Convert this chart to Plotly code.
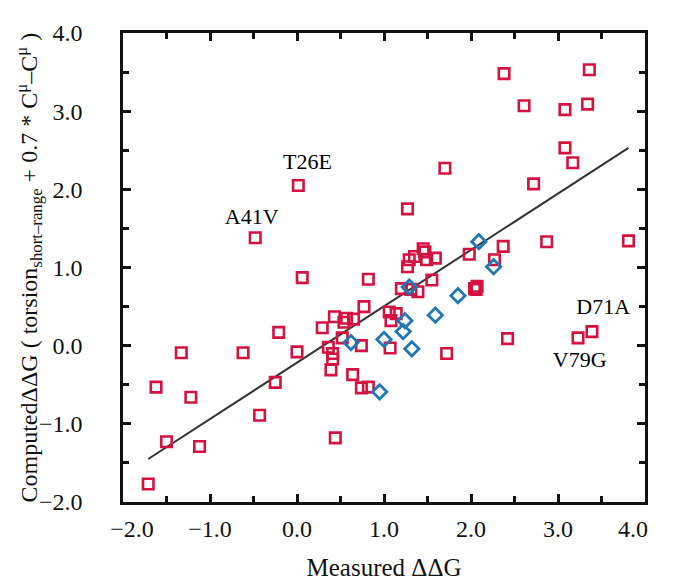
import plotly.graph_objects as go

# Red open squares (measured, computed)
red_x = [-1.71, -1.62, -1.50, -1.33, -1.22, -1.12, -0.62, -0.48, -0.43, -0.25,
         -0.21, 0.00, 0.015, 0.06, 0.29, 0.36, 0.39, 0.41, 0.41, 0.43,
         0.44, 0.52, 0.54, 0.57, 0.65, 0.64, 0.74, 0.74, 0.77, 0.82,
         0.82, 1.06, 1.14, 1.08, 1.07, 1.20, 1.27, 1.27, 1.29, 1.31,
         1.35, 1.39, 1.45, 1.47, 1.49, 1.55, 1.59, 1.70, 1.72, 1.98,
         2.04, 2.07, 2.06, 2.27, 2.37, 2.38, 2.42, 2.61, 2.72, 2.87,
         3.08, 3.08, 3.17, 3.23, 3.34, 3.36, 3.39, 3.81]
red_y = [-1.77, -0.53, -1.23, -0.09, -0.66, -1.29, -0.09, 1.38, -0.89, -0.47,
         0.17, -0.08, 2.05, 0.87, 0.23, -0.02, -0.31, -0.10, -0.17, 0.37,
         -1.18, 0.10, 0.30, 0.35, 0.34, -0.37, 0.00, -0.54, 0.50, 0.85,
         -0.53, 0.43, 0.41, 0.32, -0.03, 0.73, 1.75, 1.01, 1.10, 0.72,
         1.14, 0.69, 1.24, 1.20, 1.10, 0.84, 1.12, 2.27, -0.10, 1.17,
         0.73, 0.76, 0.72, 1.10, 1.27, 3.48, 0.09, 3.07, 2.07, 1.33,
         3.02, 2.53, 2.34, 0.10, 3.09, 3.53, 0.18, 1.34]

# Blue open diamonds
blue_x = [0.62, 0.95, 1.00, 1.22, 1.24, 1.29, 1.32, 1.59, 1.85, 2.09, 2.26]
blue_y = [0.04, -0.59, 0.08, 0.18, 0.32, 0.75, -0.04, 0.39, 0.64, 1.33, 1.01]

# Fit line end points
line_x = [-1.71, 3.81]
line_y = [-1.45, 2.53]

# Labelled mutants
label_text = ["T26E", "A41V", "D71A", "V79G"]
label_x = [0.12, -0.52, 3.52, 3.25]
label_y = [2.33, 1.63, 0.47, -0.20]

tick_vals = [-2, -1, 0, 1, 2, 3, 4]
x_tick_text = ["\u00a0\u00a0\u00a0\u22122.0", "\u22121.0", "0.0", "1.0", "2.0", "3.0",
               "4.0\u00a0\u00a0\u00a0\u00a0"]
y_tick_text = ["\u22122.0", "\u22121.0", "0.0", "1.0", "2.0", "3.0", "4.0"]

x_title = "Measured \u0394\u0394G"
y_title = ("Computed\u0394\u0394G ( torsion<sub>short\u2013range</sub> + 0.7 * "
           "C<sup>\u03bc</sup>\u2013C<sup>\u03bc</sup> )")

RED = "#d3123f"
BLUE = "#1f78b4"
FONT = "Liberation Serif"
INK = "#111111"

L, R, T, B = 115, 17, 24, 92
W, H = 676, 586

fig = go.Figure()
fig.add_trace(go.Scatter(x=line_x, y=line_y, mode="lines",
                         line=dict(color="#333333", width=2), hoverinfo="skip"))
fig.add_trace(go.Scatter(x=red_x, y=red_y, mode="markers",
                         marker=dict(symbol="square-open", size=10.5, color=RED,
                                     line=dict(color=RED, width=2.6))))
fig.add_trace(go.Scatter(x=blue_x, y=blue_y, mode="markers",
                         marker=dict(symbol="diamond-open", size=11, color=BLUE,
                                     line=dict(color=BLUE, width=2.8))))
fig.add_trace(go.Scatter(x=label_x, y=label_y, mode="text", text=label_text,
                         textfont=dict(family=FONT, size=22, color="#000000"),
                         hoverinfo="skip"))

axis_common = dict(
    showgrid=False, zeroline=False, showline=True, linecolor=INK, linewidth=2.5,
    mirror="ticks", ticks="inside", ticklen=8, tickwidth=2.5, tickcolor=INK,
    tickfont=dict(family=FONT, size=24, color=INK),
    tickvals=tick_vals, ticklabeloverflow="allow",
    minor=dict(dtick=0.5, ticks="inside", ticklen=6, tickwidth=2.5, tickcolor=INK),
)

fig.update_layout(
    width=W, height=H,
    margin=dict(l=L, r=R, t=T, b=B),
    paper_bgcolor="white", plot_bgcolor="white",
    showlegend=False,
    xaxis=dict(range=[-2, 4], ticklabelstandoff=3, ticktext=x_tick_text,
               title=dict(text=x_title, standoff=18,
                          font=dict(family=FONT, size=25, color=INK)),
               **axis_common),
    yaxis=dict(range=[-2, 4], ticklabelstandoff=33, ticktext=y_tick_text,
               **axis_common),
    annotations=[dict(text=y_title, textangle=-90, xref="paper", yref="paper",
                      x=(16 - L) / (W - L - R), y=0.5, xanchor="center", yanchor="middle",
                      showarrow=False, font=dict(family=FONT, size=24, color=INK))],
)

fig.write_html("out.html")
